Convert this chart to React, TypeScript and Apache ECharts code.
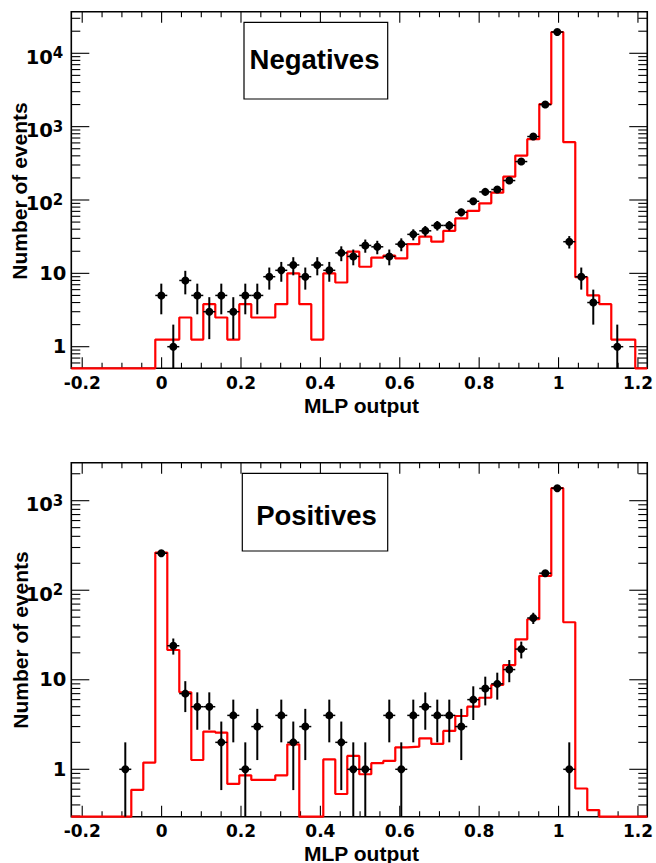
import React, { useEffect, useRef } from "react";
import * as echarts from "echarts";

// ---- histogram binning (48 bins over the x range) ----
const X_MIN = -0.2275;
const X_MAX = 1.2235;
const N_BINS = 48;
const X_LABELS = [-0.2, 0, 0.2, 0.4, 0.6, 0.8, 1, 1.2];

// ---- Negatives: observed counts (points) and expectation (red histogram) ----
const negativesData = [
  0, 0, 0, 0, 0, 0, 0,
  5, 1, 8, 5, 3, 5, 3, 5, 5, 9,
  11, 13, 9, 13, 11, 19, 17, 24, 23, 17,
  25, 34, 38, 45, 45, 68, 96, 129, 139, 184,
  334, 733, 2000, 19500, 27, 9, 4, 0, 1, 0, 0,
];
const negativesMC = [
  0, 0, 0, 0, 0, 0, 0,
  1.25, 1.25, 2.5, 1.25, 3.8, 2.5, 1.25, 3.8, 2.5, 2.5,
  3.8, 10, 3.8, 1.25, 10, 7.5, 19.8, 12.3, 16.4, 17.4,
  16, 25, 31.7, 27, 38, 56, 71, 90, 126, 208,
  403, 675, 2030, 19500, 614, 8.85, 5, 3.8, 1.25, 1.25, 0,
];

// ---- Positives ----
const positivesData = [
  0, 0, 0, 0, 1, 0, 0,
  259, 24, 7, 5, 5, 2, 4, 1, 3, 0,
  4, 2, 3, 0, 4, 2, 1, 1, 0, 4,
  1, 4, 5, 4, 4, 3, 6, 8, 9, 13,
  22, 49, 155, 1380, 1, 0, 0, 0, 0, 0, 0,
];
const positivesMC = [
  0, 0, 0, 0, 0, 0.59, 1.19,
  264, 21.5, 7.25, 1.27, 2.64, 2.57, 0.686, 0.857, 0.76, 0.76,
  0.857, 1.9, 0, 0, 1.29, 0.53, 1.41, 0.88, 1.17, 1.24,
  1.76, 1.79, 2.22, 1.92, 2.68, 3.94, 5.0, 6.3, 8.75, 14.6,
  28.3, 47.4, 145, 1380, 43.9, 0.61, 0.35, 0, 0, 0, 0,
];

const NEG_Y_RANGE = [0.5076, 36900];
const POS_Y_RANGE = [0.2955, 2657];

const PANEL_TITLES = ["Negatives", "Positives"];
const X_TITLE = "MLP output";
const Y_TITLE = "Number of events";

// ---- layout ----
const GRIDS = [
  { left: 71.3, top: 11.7, width: 580.4, height: 356.6 },
  { left: 71.3, top: 462.7, width: 580.4, height: 354 },
];
const BOXES = [
  { x: 244, y: 22.3, w: 143.7, h: 76.7, tx: 314.5, ty: 59.5 },
  { x: 242.3, y: 473.3, w: 145.4, h: 77.7, tx: 316.5, ty: 515 },
];
const X_TITLE_Y = [405, 853];
const Y_TITLE_POS = [
  { x: 19.5, y: 191 },
  { x: 20.5, y: 640 },
];

const BW = (X_MAX - X_MIN) / N_BINS;
const binCenter = (i: number) => X_MIN + (i + 0.5) * BW;
const binEdge = (i: number) => X_MIN + i * BW;

const panels = [
  { data: negativesData, mc: negativesMC, yr: NEG_Y_RANGE },
  { data: positivesData, mc: positivesMC, yr: POS_Y_RANGE },
];

function xTicks() {
  const out: { v: number; major: boolean }[] = [];
  for (let j = -8; j <= 28; j++) {
    const v = j * 0.05;
    if (v > X_MIN && v < X_MAX) out.push({ v, major: j % 4 === 0 });
  }
  return out;
}
function yTicks(yMin: number, yMax: number) {
  const out: { v: number; major: boolean }[] = [];
  for (let d = Math.floor(Math.log10(yMin)); d <= Math.ceil(Math.log10(yMax)); d++) {
    for (let m = 1; m <= 9; m++) {
      const v = m * Math.pow(10, d);
      if (v > yMin && v < yMax) out.push({ v, major: m === 1 });
    }
  }
  return out;
}

const LABEL_FONT = "DejaVu Sans";
const TITLE_FONT = "Liberation Sans";

function xFormatter(v: number) {
  for (const l of X_LABELS) if (Math.abs(l - v) < 1e-6) return String(l);
  return "";
}
function yFormatter(v: number) {
  const l = Math.log10(v);
  const n = Math.round(l);
  if (Math.abs(l - n) > 1e-6) return "";
  if (n === 0) return "{p|1}";
  if (n === 1) return "{p|10}";
  return `{b|10}{s|${n}}`;
}

export default function App() {
  const ref = useRef<HTMLDivElement>(null);
  useEffect(() => {
    if (!ref.current) return;
    const chart = echarts.init(ref.current, undefined, { renderer: "svg" });

    const xAxis: any[] = [];
    const yAxis: any[] = [];
    const series: any[] = [];
    const graphic: any[] = [];

    panels.forEach((p, gi) => {
      const [yMin, yMax] = p.yr;
      xAxis.push({
        gridIndex: gi,
        type: "value",
        min: X_MIN,
        max: X_MAX,
        splitNumber: 7,
        axisLine: { show: false },
        axisTick: { show: false },
        splitLine: { show: false },
        axisLabel: {
          formatter: xFormatter,
          color: "#000",
          fontFamily: LABEL_FONT,
          fontWeight: "bold",
          fontSize: 17,
          margin: 6,
        },
      });
      yAxis.push({
        gridIndex: gi,
        type: "log",
        logBase: 10,
        min: yMin,
        max: yMax,
        axisLine: { show: false },
        axisTick: { show: false },
        splitLine: { show: false },
        axisLabel: {
          formatter: yFormatter,
          color: "#000",
          fontFamily: LABEL_FONT,
          fontWeight: "bold",
          fontSize: 19.5,
          margin: 5,
          rich: {
            p: { fontFamily: LABEL_FONT, fontWeight: "bold", fontSize: 19.5, lineHeight: 20, color: "#000" },
            b: {
              fontFamily: LABEL_FONT,
              fontWeight: "bold",
              fontSize: 19.5,
              lineHeight: 20,
              verticalAlign: "bottom",
              color: "#000",
            },
            s: {
              fontFamily: LABEL_FONT,
              fontWeight: "bold",
              fontSize: 15,
              lineHeight: 28,
              padding: [0, 3, 0, 0],
              color: "#000",
            },
          },
        },
      });

      // frame ticks (all four sides)
      const xt = xTicks();
      const yt = yTicks(yMin, yMax);
      series.push({
        type: "custom",
        xAxisIndex: gi,
        yAxisIndex: gi,
        silent: true,
        clip: false,
        z: 3,
        data: [[0.5, 1]],
        renderItem: (_params: any, api: any) => {
          const bl = api.coord([X_MIN, yMin]);
          const tr = api.coord([X_MAX, yMax]);
          const left = bl[0], bottom = bl[1], right = tr[0], top = tr[1];
          const st = { stroke: "#000", lineWidth: 1.1 };
          const children: any[] = [];
          xt.forEach((t) => {
            const px = api.coord([t.v, yMin])[0];
            const len = t.major ? 11 : 5.5;
            children.push({ type: "line", shape: { x1: px, y1: bottom, x2: px, y2: bottom - len }, style: st });
            children.push({ type: "line", shape: { x1: px, y1: top, x2: px, y2: top + len }, style: st });
          });
          yt.forEach((t) => {
            const py = api.coord([X_MIN, t.v])[1];
            const len = t.major ? 18 : 9;
            children.push({ type: "line", shape: { x1: left, y1: py, x2: left + len, y2: py }, style: st });
            children.push({ type: "line", shape: { x1: right, y1: py, x2: right - len, y2: py }, style: st });
          });
          return { type: "group", children };
        },
      });

      // red expectation histogram
      const stepData: number[][] = p.mc.map((v, i) => [binEdge(i), Math.max(v, yMin)]);
      stepData.push([X_MAX, Math.max(p.mc[p.mc.length - 1], yMin)]);
      series.push({
        type: "line",
        xAxisIndex: gi,
        yAxisIndex: gi,
        step: "end",
        data: stepData,
        showSymbol: false,
        symbol: "none",
        clip: false,
        z: 4,
        lineStyle: { color: "#ff0000", width: 2.2 },
        silent: true,
      });

      // data points with error bars
      const pts: number[][] = [];
      p.data.forEach((n, i) => {
        if (n > 0) pts.push([binCenter(i), n]);
      });
      series.push({
        type: "custom",
        xAxisIndex: gi,
        yAxisIndex: gi,
        clip: false,
        z: 5,
        data: pts,
        renderItem: (_params: any, api: any) => {
          const x = api.value(0);
          const n = api.value(1);
          const err = Math.sqrt(n);
          const c = api.coord([x, n]);
          const hi = api.coord([x, Math.min(n + err, yMax)]);
          const lo = api.coord([x, Math.max(n - err, yMin)]);
          const l = api.coord([x - BW / 2, n]);
          const r = api.coord([x + BW / 2, n]);
          return {
            type: "group",
            children: [
              { type: "line", shape: { x1: c[0], y1: hi[1], x2: c[0], y2: lo[1] }, style: { stroke: "#000", lineWidth: 2 } },
              { type: "line", shape: { x1: l[0], y1: c[1], x2: r[0], y2: c[1] }, style: { stroke: "#000", lineWidth: 1.5 } },
              { type: "circle", shape: { cx: c[0], cy: c[1], r: 4 }, style: { fill: "#000" } },
            ],
          };
        },
      });

      // annotation box
      const b = BOXES[gi];
      graphic.push({
        type: "rect",
        z: 10,
        shape: { x: b.x, y: b.y, width: b.w, height: b.h },
        style: { fill: "#fff", stroke: "#000", lineWidth: 1.2 },
      });
      graphic.push({
        type: "text",
        z: 11,
        x: b.tx,
        y: b.ty,
        style: {
          text: PANEL_TITLES[gi],
          fontFamily: TITLE_FONT,
          fontWeight: "bold",
          fontSize: 27.5,
          fill: "#000",
          align: "center",
          verticalAlign: "middle",
        },
      });
      graphic.push({
        type: "text",
        z: 11,
        x: GRIDS[gi].left + GRIDS[gi].width / 2,
        y: X_TITLE_Y[gi],
        style: {
          text: X_TITLE,
          fontFamily: TITLE_FONT,
          fontWeight: "bold",
          fontSize: 21,
          fill: "#000",
          align: "center",
          verticalAlign: "middle",
        },
      });
      graphic.push({
        type: "text",
        z: 11,
        x: Y_TITLE_POS[gi].x,
        y: Y_TITLE_POS[gi].y,
        rotation: Math.PI / 2,
        style: {
          text: Y_TITLE,
          fontFamily: TITLE_FONT,
          fontWeight: "bold",
          fontSize: 21,
          fill: "#000",
          align: "center",
          verticalAlign: "middle",
        },
      });
    });

    chart.setOption({
      animation: false,
      backgroundColor: "#fff",
      grid: GRIDS.map((g) => ({
        ...g,
        show: true,
        borderColor: "#000",
        borderWidth: 1.6,
        backgroundColor: "transparent",
        containLabel: false,
      })),
      xAxis,
      yAxis,
      series,
      graphic,
    });
    return () => chart.dispose();
  }, []);

  return (
    <div
      ref={ref}
      style={{ position: "absolute", left: 0, top: 0, width: 656, height: 863, background: "#fff" }}
    />
  );
}
